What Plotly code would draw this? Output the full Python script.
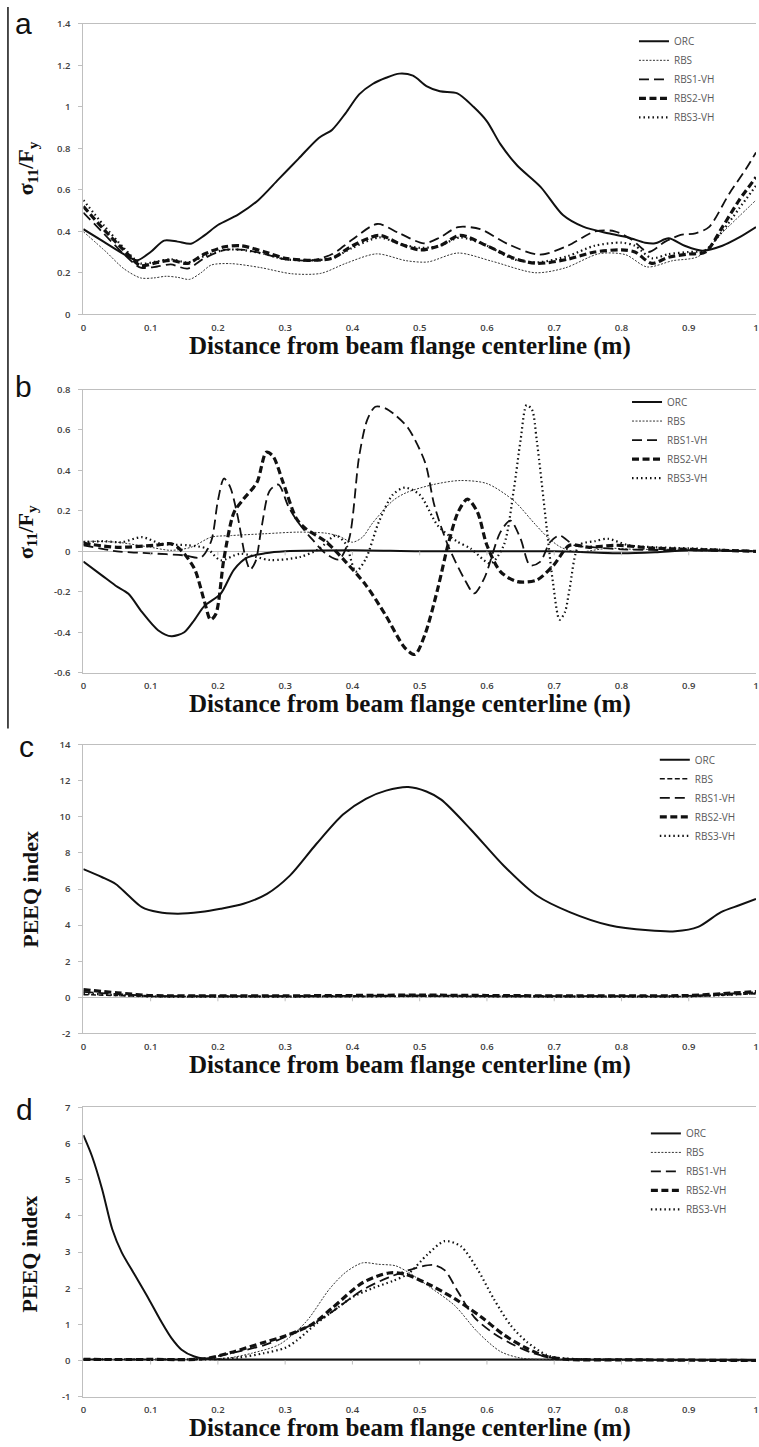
import plotly.graph_objects as go

W, H = 759, 1447

# ---------------- data ----------------
# (a) normalised stress sigma11/Fy
a_orc_x = [0, 0.03, 0.06, 0.08, 0.1, 0.12, 0.14, 0.16, 0.18, 0.2, 0.23, 0.26, 0.29, 0.32, 0.35, 0.37,
           0.39, 0.41, 0.43, 0.45, 0.47, 0.49, 0.51, 0.53, 0.556, 0.58, 0.6, 0.62, 0.645, 0.68, 0.713,
           0.743, 0.78, 0.81, 0.835, 0.85, 0.87, 0.894, 0.92, 0.95, 0.975, 1.0]
a_orc_y = [0.41, 0.35, 0.29, 0.26, 0.30, 0.355, 0.35, 0.34, 0.38, 0.43, 0.48, 0.55, 0.65, 0.75, 0.85, 0.89,
           0.97, 1.06, 1.11, 1.14, 1.16, 1.15, 1.10, 1.075, 1.065, 1.0, 0.93, 0.82, 0.717, 0.613, 0.478,
           0.422, 0.39, 0.37, 0.345, 0.342, 0.366, 0.33, 0.306, 0.33, 0.37, 0.42]

a_rbs_x = [0, 0.034, 0.06, 0.085, 0.105, 0.123, 0.14, 0.158, 0.175, 0.19, 0.219, 0.263, 0.31, 0.353, 0.39,
           0.436, 0.48, 0.512, 0.557, 0.608, 0.672, 0.716, 0.767, 0.806, 0.838, 0.876, 0.914, 0.952, 1.0]
a_rbs_y = [0.398, 0.30, 0.22, 0.175, 0.175, 0.183, 0.178, 0.168, 0.20, 0.237, 0.244, 0.225, 0.195, 0.197,
           0.245, 0.291, 0.258, 0.252, 0.295, 0.255, 0.20, 0.223, 0.292, 0.287, 0.228, 0.258, 0.278, 0.40, 0.55]

a_rbs1_x = [0, 0.03, 0.06, 0.085, 0.11, 0.13, 0.155, 0.18, 0.21, 0.24, 0.27, 0.3, 0.34, 0.37, 0.4, 0.437,
            0.47, 0.506, 0.53, 0.557, 0.59, 0.63, 0.678, 0.72, 0.761, 0.79, 0.815, 0.84, 0.865, 0.888,
            0.91, 0.93, 0.96, 0.985, 1.0]
a_rbs1_y = [0.49, 0.39, 0.29, 0.225, 0.23, 0.24, 0.22, 0.27, 0.31, 0.31, 0.29, 0.265, 0.26, 0.29, 0.36,
            0.435, 0.39, 0.342, 0.37, 0.42, 0.41, 0.34, 0.287, 0.33, 0.40, 0.40, 0.36, 0.30, 0.35, 0.382,
            0.39, 0.42, 0.58, 0.70, 0.78]

a_rbs2_x = [0, 0.03, 0.06, 0.085, 0.11, 0.13, 0.155, 0.18, 0.21, 0.235, 0.27, 0.3, 0.34, 0.37, 0.4, 0.44,
            0.47, 0.5, 0.53, 0.56, 0.6, 0.64, 0.675, 0.72, 0.76, 0.8, 0.82, 0.845, 0.87, 0.9, 0.925,
            0.95, 0.975, 1.0]
a_rbs2_y = [0.52, 0.41, 0.31, 0.235, 0.25, 0.26, 0.245, 0.29, 0.325, 0.33, 0.30, 0.27, 0.26, 0.27, 0.33,
            0.38, 0.34, 0.31, 0.33, 0.38, 0.33, 0.27, 0.245, 0.265, 0.30, 0.31, 0.30, 0.245, 0.275, 0.29,
            0.30, 0.42, 0.55, 0.66]

a_rbs3_x = a_rbs2_x
a_rbs3_y = [0.55, 0.43, 0.32, 0.245, 0.255, 0.265, 0.25, 0.28, 0.31, 0.31, 0.29, 0.265, 0.26, 0.27, 0.32,
            0.37, 0.34, 0.32, 0.33, 0.37, 0.33, 0.265, 0.25, 0.28, 0.33, 0.345, 0.33, 0.27, 0.29, 0.30,
            0.31, 0.40, 0.51, 0.62]

# (b) normalised stress sigma11/Fy
b_orc_x = [0, 0.028, 0.048, 0.067, 0.087, 0.111, 0.131, 0.15, 0.165, 0.18, 0.204, 0.224, 0.244, 0.27, 0.3,
           0.4, 0.5, 0.6, 0.7, 0.8, 0.85, 0.9, 1.0]
b_orc_y = [-0.05, -0.12, -0.17, -0.21, -0.30, -0.39, -0.42, -0.40, -0.34, -0.27, -0.21, -0.09, -0.03,
           -0.01, 0.0, 0.005, 0.0, 0.0, 0.0, -0.01, -0.005, 0.005, 0.0]

b_rbs_x = [0, 0.05, 0.1, 0.13, 0.16, 0.19, 0.22, 0.27, 0.32, 0.36, 0.38, 0.40, 0.415, 0.43, 0.46, 0.48,
           0.52, 0.56, 0.60, 0.64, 0.67, 0.69, 0.71, 0.735, 0.78, 0.82, 0.9, 1.0]
b_rbs_y = [0.05, 0.045, 0.02, 0.005, 0.02, 0.07, 0.078, 0.087, 0.095, 0.09, 0.075, 0.045, 0.07, 0.14, 0.25,
           0.29, 0.33, 0.35, 0.335, 0.25, 0.14, 0.07, 0.02, -0.003, 0.015, 0.01, 0.01, 0.0]

b_rbs1_x = [0, 0.05, 0.1, 0.15, 0.175, 0.19, 0.2, 0.209, 0.218, 0.229, 0.241, 0.248, 0.256, 0.265, 0.277,
            0.29, 0.305, 0.32, 0.34, 0.36, 0.38, 0.395, 0.41, 0.422, 0.434, 0.449, 0.465, 0.483, 0.508,
            0.522, 0.542, 0.566, 0.581, 0.596, 0.62, 0.635, 0.65, 0.664, 0.679, 0.694, 0.708, 0.73, 0.76,
            0.8, 0.9, 1.0]
b_rbs1_y = [0.03, 0.0, -0.01, -0.02, -0.03, 0.05, 0.25, 0.36, 0.32, 0.18, -0.03, -0.09, -0.05, 0.12, 0.30,
            0.33, 0.22, 0.14, 0.06, -0.01, -0.04, 0.06, 0.47, 0.65, 0.715, 0.707, 0.67, 0.609, 0.44,
            0.225, 0.03, -0.134, -0.208, -0.134, 0.095, 0.152, 0.062, -0.069, -0.052, 0.046, 0.078, 0.03,
            0.02, 0.01, 0.005, 0.0]

b_rbs2_x = [0, 0.05, 0.106, 0.131, 0.145, 0.165, 0.18, 0.189, 0.197, 0.209, 0.224, 0.238, 0.258, 0.272,
            0.282, 0.297, 0.317, 0.331, 0.361, 0.39, 0.42, 0.449, 0.478, 0.493, 0.508, 0.527, 0.542, 0.557,
            0.571, 0.586, 0.6, 0.62, 0.645, 0.674, 0.699, 0.723, 0.752, 0.791, 0.85, 0.9, 1.0]
b_rbs2_y = [0.04, 0.02, 0.03, 0.037, 0.006, -0.085, -0.248, -0.338, -0.31, -0.036, 0.193, 0.258, 0.34,
            0.49, 0.47, 0.34, 0.16, 0.111, 0.046, -0.052, -0.167, -0.314, -0.477, -0.51, -0.41, -0.183,
            0.03, 0.193, 0.258, 0.193, 0.03, -0.10, -0.15, -0.142, -0.069, 0.03, 0.02, 0.03, 0.015, 0.01,
            0.0]

b_rbs3_x = [0, 0.03, 0.057, 0.087, 0.116, 0.155, 0.184, 0.204, 0.233, 0.278, 0.322, 0.351, 0.375, 0.39,
            0.405, 0.42, 0.439, 0.46, 0.478, 0.5, 0.527, 0.555, 0.576, 0.605, 0.625, 0.64, 0.65, 0.659,
            0.667, 0.674, 0.689, 0.698, 0.708, 0.716, 0.723, 0.737, 0.76, 0.78, 0.81, 0.85, 0.9, 1.0]
b_rbs3_y = [0.045, 0.05, 0.045, 0.07, 0.037, 0.03, 0.013, -0.044, -0.012, -0.043, -0.028, 0.013, 0.078,
            0.037, -0.10, -0.036, 0.143, 0.28, 0.315, 0.28, 0.127, 0.05, 0.013, -0.06, 0.03, 0.307, 0.55,
            0.723, 0.70, 0.55, 0.11, -0.15, -0.338, -0.30, -0.183, 0.03, 0.05, 0.062, 0.03, 0.02, 0.015, 0.0]

# (c) PEEQ index
c_orc_x = [0, 0.028, 0.048, 0.067, 0.087, 0.111, 0.14, 0.174, 0.204, 0.238, 0.273, 0.307, 0.346, 0.386,
           0.42, 0.45, 0.483, 0.51, 0.532, 0.576, 0.625, 0.674, 0.723, 0.782, 0.84, 0.88, 0.914, 0.948,
           0.975, 1.0]
c_orc_y = [7.1, 6.65, 6.28, 5.64, 5.0, 4.72, 4.63, 4.72, 4.9, 5.18, 5.73, 6.74, 8.48, 10.13, 11.0, 11.45,
           11.65, 11.4, 10.95, 9.3, 7.29, 5.64, 4.72, 3.99, 3.71, 3.66, 3.9, 4.72, 5.1, 5.45]
c_rbs_x = [0, 0.05, 0.1, 0.2, 0.3, 0.4, 0.5, 0.6, 0.7, 0.8, 0.9, 0.95, 1.0]
c_rbs_y = [0.15, 0.1, 0.05, 0.05, 0.05, 0.05, 0.06, 0.05, 0.05, 0.05, 0.05, 0.12, 0.2]
c_rbs1_y = [0.3, 0.18, 0.08, 0.07, 0.07, 0.08, 0.1, 0.08, 0.07, 0.07, 0.08, 0.18, 0.28]
c_rbs2_y = [0.42, 0.25, 0.1, 0.08, 0.08, 0.1, 0.12, 0.1, 0.08, 0.08, 0.1, 0.2, 0.32]
c_rbs3_y = [0.22, 0.12, 0.05, 0.04, 0.04, 0.05, 0.06, 0.05, 0.04, 0.04, 0.05, 0.12, 0.22]

# (d) PEEQ index
d_orc_x = [0, 0.013, 0.028, 0.043, 0.057, 0.077, 0.097, 0.116, 0.131, 0.146, 0.165, 0.18, 0.2, 0.3, 0.5,
           0.7, 1.0]
d_orc_y = [6.23, 5.64, 4.73, 3.63, 2.99, 2.35, 1.71, 1.07, 0.62, 0.3, 0.11, 0.05, 0.03, 0.03, 0.03, 0.03,
           0.02]
d_rbs_x = [0, 0.1, 0.18, 0.219, 0.25, 0.292, 0.331, 0.366, 0.39, 0.415, 0.439, 0.464, 0.483, 0.512, 0.552,
           0.586, 0.62, 0.65, 0.7, 0.8, 1.0]
d_rbs_y = [0.03, 0.03, 0.04, 0.08, 0.2, 0.45, 1.07, 1.98, 2.44, 2.70, 2.66, 2.62, 2.44, 2.07, 1.52, 0.79,
           0.25, 0.07, 0.02, 0.02, 0.01]
d_rbs1_x = [0, 0.1, 0.18, 0.219, 0.268, 0.3, 0.34, 0.37, 0.415, 0.454, 0.493, 0.52, 0.537, 0.557, 0.581,
            0.61, 0.64, 0.669, 0.699, 0.75, 0.85, 1.0]
d_rbs1_y = [0.03, 0.03, 0.05, 0.2, 0.42, 0.65, 1.0, 1.35, 1.95, 2.3, 2.55, 2.64, 2.5, 1.9, 1.2, 0.75, 0.43,
            0.2, 0.07, 0.03, 0.02, 0.0]
d_rbs2_x = [0, 0.1, 0.18, 0.219, 0.268, 0.3, 0.34, 0.37, 0.415, 0.454, 0.478, 0.512, 0.552, 0.591, 0.625,
            0.659, 0.689, 0.72, 0.8, 1.0]
d_rbs2_y = [0.03, 0.03, 0.05, 0.22, 0.5, 0.68, 1.0, 1.45, 2.15, 2.42, 2.39, 2.12, 1.71, 1.21, 0.71, 0.34,
            0.11, 0.03, 0.02, 0.0]
d_rbs3_x = [0, 0.1, 0.2, 0.23, 0.268, 0.3, 0.317, 0.345, 0.37, 0.4, 0.43, 0.46, 0.483, 0.512, 0.537,
            0.561, 0.586, 0.61, 0.635, 0.659, 0.689, 0.708, 0.75, 1.0]
d_rbs3_y = [0.03, 0.03, 0.04, 0.08, 0.2, 0.35, 0.55, 1.0, 1.35, 1.75, 2.0, 2.2, 2.4, 2.94, 3.30, 3.16,
            2.52, 1.71, 0.98, 0.52, 0.15, 0.07, 0.03, 0.01]

x_ticks = [0, 0.1, 0.2, 0.3, 0.4, 0.5, 0.6, 0.7, 0.8, 0.9, 1.0]
x_tick_text = ["0", "0.1", "0.2", "0.3", "0.4", "0.5", "0.6", "0.7", "0.8", "0.9", "1"]
a_ticks = [0, 0.2, 0.4, 0.6, 0.8, 1.0, 1.2, 1.4]
a_tick_text = ["0", "0.2", "0.4", "0.6", "0.8", "1", "1.2", "1.4"]
b_ticks = [-0.6, -0.4, -0.2, 0, 0.2, 0.4, 0.6, 0.8]
b_tick_text = ["-0.6", "-0.4", "-0.2", "0", "0.2", "0.4", "0.6", "0.8"]
c_ticks = [-2, 0, 2, 4, 6, 8, 10, 12, 14]
c_tick_text = ["-2", "0", "2", "4", "6", "8", "10", "12", "14"]
d_ticks = [-1, 0, 1, 2, 3, 4, 5, 6, 7]
d_tick_text = ["-1", "0", "1", "2", "3", "4", "5", "6", "7"]

series_names = ["ORC", "RBS", "RBS1-VH", "RBS2-VH", "RBS3-VH"]

# ---------------- styles ----------------
STYLE = {
    "ORC": dict(color="#111111", width=2.0, dash="solid"),
    "RBS": dict(color="#333333", width=1.0, dash="2px,1.5px"),
    "RBS1-VH": dict(color="#111111", width=1.8, dash="10px,5px"),
    "RBS2-VH": dict(color="#111111", width=3.2, dash="7px,3.5px"),
    "RBS3-VH": dict(color="#111111", width=2.2, dash="1.5px,3px"),
}
RBS_C = dict(color="#111111", width=1.6, dash="5px,2.5px")


def px_to_paper_y(py):
    return 1 - py / H


panels = [
    # axis suffix, top px, bottom px, y range, ticks, text, legend name, legend pos
    ("", 17, 310, [0, 1.4], a_ticks, a_tick_text, "legend", (636, 20)),
    ("2", 386, 671.7, [-0.6, 0.8], b_ticks, b_tick_text, "legend2", (629, 384)),
    ("3", 744.3, 1035.7, [-2, 14], c_ticks, c_tick_text, "legend3", (657, 745)),
    ("4", 1110.3, 1402.3, [-1, 7], d_ticks, d_tick_text, "legend4", (648, 1122)),
]

data_sets = [
    [(a_orc_x, a_orc_y), (a_rbs_x, a_rbs_y), (a_rbs1_x, a_rbs1_y), (a_rbs2_x, a_rbs2_y), (a_rbs3_x, a_rbs3_y)],
    [(b_orc_x, b_orc_y), (b_rbs_x, b_rbs_y), (b_rbs1_x, b_rbs1_y), (b_rbs2_x, b_rbs2_y), (b_rbs3_x, b_rbs3_y)],
    [(c_orc_x, c_orc_y), (c_rbs_x, c_rbs_y), (c_rbs_x, c_rbs1_y), (c_rbs_x, c_rbs2_y), (c_rbs_x, c_rbs3_y)],
    [(d_orc_x, d_orc_y), (d_rbs_x, d_rbs_y), (d_rbs1_x, d_rbs1_y), (d_rbs2_x, d_rbs2_y), (d_rbs3_x, d_rbs3_y)],
]

fig = go.Figure()
layout = dict(
    width=W, height=H,
    margin=dict(l=0, r=0, t=0, b=0),
    paper_bgcolor="white", plot_bgcolor="white",
    showlegend=True,
    shapes=[], annotations=[],
)

TICK_FONT = dict(family="Open Sans", size=9.5, color="#404040", weight=600)
LEG_FONT = dict(family="Open Sans", size=10, color="#595959")
GRAY = "#bfbfbf"
x0_px = 81

for pi, (suf, top, bot, yr, yt, ytt, leg, (lx, ly)) in enumerate(panels):
    xa = "x" + suf
    ya = "y" + suf
    for si, name in enumerate(series_names):
        xs, ys = data_sets[pi][si]
        style = STYLE[name]
        if pi == 2 and name == "RBS":
            style = RBS_C
        fig.add_trace(go.Scatter(
            x=xs, y=ys, mode="lines", name=name,
            line=dict(shape="spline", smoothing=0.8, **style),
            xaxis=xa, yaxis=ya, legend=leg,
            cliponaxis=True,
        ))
    layout["xaxis" + suf] = dict(
        domain=[x0_px / W, 1.0], range=[0, 1.0], anchor=ya,
        tickvals=x_ticks, ticktext=x_tick_text, tickfont=TICK_FONT,
        ticklabeloverflow="allow",
        showline=True, linecolor=GRAY, linewidth=1, mirror=True,
        showgrid=False, zeroline=False, ticks="", ticklabelstandoff=4,
        fixedrange=True,
    )
    layout["yaxis" + suf] = dict(
        domain=[px_to_paper_y(bot), px_to_paper_y(top)], range=yr, anchor=xa,
        tickvals=yt, ticktext=ytt, tickfont=TICK_FONT,
        showline=True, linecolor=GRAY, linewidth=1,
        showgrid=False, zeroline=True, zerolinecolor=GRAY, zerolinewidth=1,
        ticks="outside", ticklen=4, tickcolor=GRAY, ticklabelstandoff=6,
        fixedrange=True,
    )
    layout[leg] = dict(
        x=lx / W, y=px_to_paper_y(ly), xanchor="left", yanchor="top",
        font=LEG_FONT, bgcolor="rgba(0,0,0,0)", borderwidth=0,
        tracegroupgap=0, itemwidth=30,
    )
    # small tick marks on the zero line
    for xv in x_ticks[1:-1]:
        layout["shapes"].append(dict(
            type="line", xref=xa, yref=ya, ysizemode="pixel", yanchor=0,
            x0=xv, x1=xv, y0=0, y1=-4, line=dict(color=GRAY, width=1)))
    # x-axis title
    layout["annotations"].append(dict(
        text="Distance from beam flange centerline (m)", xref="paper", yref="paper",
        x=410 / W, y=px_to_paper_y(bot + 32), xanchor="center", yanchor="middle",
        showarrow=False, font=dict(family="Liberation Serif", size=25, color="#111111", weight="bold")))

# y-axis titles
for (txt, cx, cy) in [("σ<sub>11</sub>/F<sub>y</sub>", 24, 163), ("σ<sub>11</sub>/F<sub>y</sub>", 24, 530),
                      ("PEEQ index", 27, 890), ("PEEQ index", 27, 1258)]:
    layout["annotations"].append(dict(
        text=txt, xref="paper", yref="paper", x=cx / W, y=px_to_paper_y(cy),
        xanchor="center", yanchor="middle", textangle=-90, showarrow=False,
        font=dict(family="Liberation Serif", size=22, color="#111111", weight="bold")))

# panel letters
for (lt, cx, cy) in [("a", 21, 17), ("b", 21, 383), ("c", 24, 746), ("d", 22, 1112)]:
    layout["annotations"].append(dict(
        text=lt, xref="paper", yref="paper", x=cx / W, y=px_to_paper_y(cy),
        xanchor="center", yanchor="middle", showarrow=False,
        font=dict(family="Liberation Sans", size=30, color="#111111")))

# left frame rule spanning panels a and b
layout["shapes"].append(dict(type="line", xref="paper", yref="paper",
                             x0=5 / W, x1=5 / W, y0=px_to_paper_y(0), y1=px_to_paper_y(728),
                             line=dict(color="#111111", width=1.5)))

fig.update_layout(**layout)
fig.write_html("out.html")
